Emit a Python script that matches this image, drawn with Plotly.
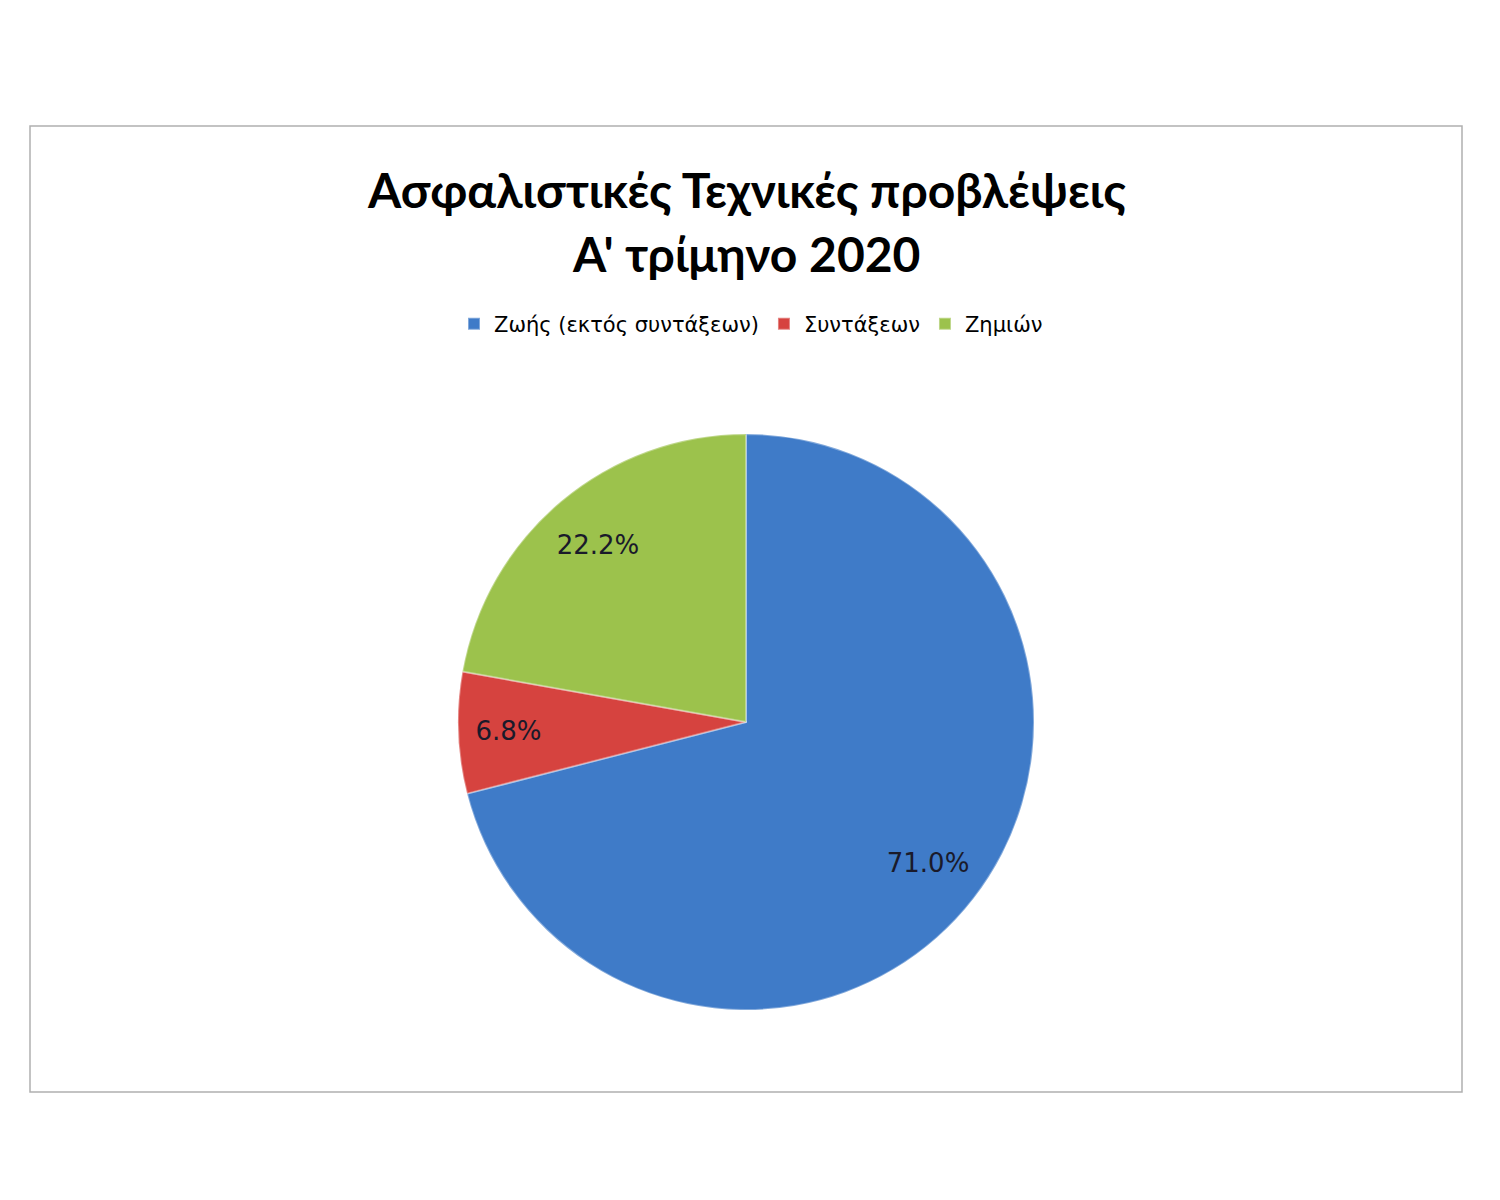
import plotly.graph_objects as go

categories = ["Ζωής (εκτός συντάξεων)", "Συντάξεων", "Ζημιών"]
values = [71.0, 6.8, 22.2]
colors = ["#3F7BC8", "#D6433F", "#9CC24C"]
title_lines = ["Ασφαλιστικές Τεχνικές προβλέψεις", "Α' τρίμηνο 2020"]

W, H = 1500, 1200
OFF = 8  # page body margin
cx, cy, r = 746 - OFF, 722 - OFF, 288


def px(x):
    return (x - OFF) / W


def py(y):
    return (H - (y - OFF)) / H


dom = dict(x=[(cx - r) / W, (cx + r) / W], y=[(H - cy - r) / H, (H - cy + r) / H])

fig = go.Figure()
fig.add_trace(go.Pie(
    labels=categories,
    values=values,
    sort=False,
    direction="clockwise",
    rotation=0,
    marker=dict(colors=colors, line=dict(color="rgba(255,255,255,0.35)", width=2)),
    textinfo="none",
    hoverinfo="label+percent",
    domain=dom,
))
# transparent ring used only to place the value labels further out, like the original
fig.add_trace(go.Pie(
    labels=categories,
    values=values,
    sort=False,
    direction="clockwise",
    rotation=0,
    hole=0.6,
    marker=dict(colors=["rgba(0,0,0,0)"] * 3, line=dict(width=0)),
    texttemplate="%{value:.1f}%",
    textposition="inside",
    insidetextorientation="horizontal",
    textfont=dict(family="DejaVu Sans", size=26, color="#1a1a2a"),
    hoverinfo="skip",
    showlegend=False,
    domain=dom,
))

fig.add_shape(type="rect", xref="paper", yref="paper",
              x0=px(30), x1=px(1462), y0=py(1092), y1=py(126),
              line=dict(color="#B0B0B0", width=1.5), fillcolor="rgba(0,0,0,0)", layer="below")

for txt, y in zip(title_lines, [189, 254]):
    fig.add_annotation(text="<b>" + txt + "</b>", xref="paper", yref="paper",
                       x=px(746), y=py(y), xanchor="center", yanchor="middle",
                       showarrow=False, font=dict(family="Lato", size=48, color="#000000"))

fig.update_layout(
    width=W, height=H,
    margin=dict(l=0, r=0, t=0, b=0),
    paper_bgcolor="white",
    plot_bgcolor="white",
    showlegend=True,
    legend=dict(orientation="h", x=px(751), y=py(324), xanchor="center", yanchor="middle",
                font=dict(family="DejaVu Sans", size=21, color="#000000"),
                itemwidth=30, traceorder="normal"),
)

fig.write_html("out.html")
